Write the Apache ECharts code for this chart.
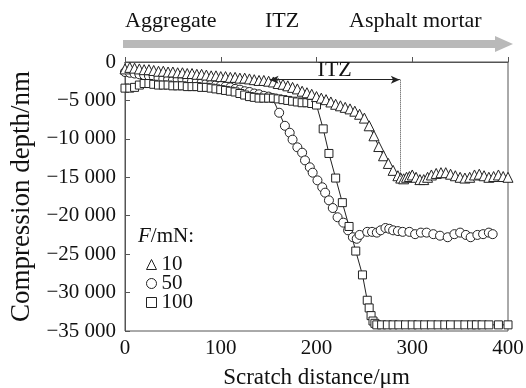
<!DOCTYPE html>
<html>
<head>
<meta charset="utf-8">
<script src="https://cdn.jsdelivr.net/npm/echarts@6/dist/echarts.min.js"></script>
<style>
  html, body { margin: 0; padding: 0; background: #fff; }
  #chart { width: 526px; height: 388px; }
</style>
</head>
<body>
<div id="chart"></div>
<script>
// scratch depth curves, [distance um, depth nm]
const force10 = [
  [0,-900],[5,-700],[10,-800],[15,-900],[20,-1000],[25,-1000],[30,-1100],[35,-1200],[40,-1200],
  [45,-1300],[50,-1300],[55,-1400],[60,-1400],[65,-1500],[70,-1500],[75,-1600],[80,-1600],
  [85,-1700],[90,-1800],[95,-1800],[100,-1900],[105,-1900],[110,-2000],[115,-2000],[120,-2100],
  [125,-2100],[130,-2200],[135,-2300],[140,-2400],[145,-2400],[150,-2500],[155,-2600],[160,-2800],
  [165,-2900],[170,-3100],[175,-3300],[180,-3500],[185,-3800],[190,-4000],[195,-4200],[200,-4500],
  [205,-4700],[210,-4900],[215,-5200],[220,-5500],[225,-5700],[230,-5900],[235,-6100],[240,-6400],
  [245,-6800],[250,-7300],[255,-8300],[260,-9600],[265,-11000],[270,-12200],[275,-13200],
  [280,-14100],[285,-14800],[288,-15100],[291,-15200],[294,-15000],[297,-14900],[300,-14700],
  [304,-15000],[308,-15300],[312,-15300],[316,-15000],[320,-14700],[325,-14500],[330,-14400],
  [335,-14400],[340,-14600],[345,-14800],[350,-15000],[355,-15100],[360,-15000],[365,-14700],
  [370,-14600],[375,-14800],[380,-15000],[385,-14900],[390,-14700],[395,-14900],[400,-15000]
];
const force50 = [
  [0,-1300],[5,-1400],[10,-1500],[15,-1600],[20,-1700],[25,-1800],[30,-1900],[35,-2100],
  [40,-2200],[45,-2300],[50,-2400],[55,-2300],[60,-2300],[65,-2400],[70,-2500],[75,-2600],
  [80,-2700],[85,-2800],[90,-2900],[95,-3000],[100,-3100],[105,-3200],[110,-3300],[115,-3500],
  [120,-3600],[125,-3800],[130,-3900],[135,-4100],[140,-4200],[145,-4400],[150,-4500],[154,-4700],
  [161,-6600],[167,-8300],[172,-9200],[175,-10100],[180,-11100],[185,-11800],[188,-12800],
  [193,-13700],[196,-14400],[201,-15400],[206,-16300],[209,-17000],[213,-18000],[217,-19000],
  [222,-20200],[228,-20900],[233,-21900],[238,-22800],[242,-23000],[245,-22500],[253,-22100],
  [258,-22100],[263,-22200],[267,-21900],[272,-21600],[276,-21700],[280,-21900],[285,-22000],
  [290,-22100],[297,-22100],[303,-22400],[309,-22200],[315,-22200],[322,-22400],[329,-22600],
  [337,-22800],[344,-22400],[350,-22200],[356,-22500],[361,-22800],[368,-22500],[374,-22400],
  [380,-22200],[384,-22400]
];
const force100 = [
  [0,-3400],[5,-3400],[10,-3300],[15,-3000],[20,-2800],[25,-2800],[30,-2900],[35,-3000],
  [40,-3000],[45,-3000],[50,-3100],[55,-3100],[60,-3100],[65,-3200],[70,-3200],[75,-3200],
  [80,-3300],[85,-3300],[90,-3400],[95,-3500],[100,-3600],[105,-3700],[110,-3800],[115,-3900],
  [120,-4100],[125,-4300],[130,-4500],[135,-4600],[140,-4700],[145,-4700],[150,-4700],[155,-4700],
  [160,-4800],[165,-4900],[170,-5000],[175,-5100],[180,-5200],[185,-5300],[190,-5300],[195,-5400],
  [200,-5600],[207,-8700],[213,-11900],[220,-15100],[227,-18300],[234,-21400],[241,-24600],
  [248,-27700],[253,-31000],[255,-32000],[257,-33000],[259,-33700],[261,-34000],[263,-34200],
  [268,-34200],[274,-34200],[280,-34200],[286,-34200],[293,-34200],[300,-34200],[306,-34200],
  [313,-34200],[320,-34200],[327,-34200],[334,-34200],[340,-34200],[348,-34200],[355,-34200],
  [362,-34200],[367,-34200],[373,-34200],[380,-34200],[390,-34200],[400,-34200]
];

const seriesNames = ['10', '50', '100'];
const seriesSymbols = ['triangle', 'circle', 'rect'];
const headerLabels = ['Aggregate', 'ITZ', 'Asphalt mortar'];

// ITZ band annotation
const itzFrom = 151;
const itzTo = 287;
const itzDepth = -2300;
const itzFloor = -15000;

const serif = '"Liberation Serif", "DejaVu Serif", serif';

function fmtDepth(v) {
  if (v === 0) return '0';
  const s = String(Math.abs(v)).replace(/\B(?=(\d{3})+(?!\d))/g, ' ');
  return '\u2212' + s;
}

const chart = echarts.init(document.getElementById('chart'), null, { renderer: 'canvas' });

const markStyle = { color: '#fff', borderColor: '#222', borderWidth: 1 };

const option = {
  animation: false,
  backgroundColor: '#fff',
  textStyle: { fontFamily: serif, color: '#111' },
  grid: {
    left: 125, top: 62, right: 18, bottom: 57,
    outerBoundsMode: 'none', containLabel: false,
    show: true, borderColor: '#555', borderWidth: 1
  },
  xAxis: {
    type: 'value', min: 0, max: 400, interval: 100,
    name: 'Scratch distance/\u03bcm', nameLocation: 'middle', nameGap: 35,
    nameTextStyle: { fontFamily: serif, fontSize: 23, color: '#111' },
    axisLine: { lineStyle: { color: '#555', width: 1 } },
    axisTick: { inside: true, length: 5, lineStyle: { color: '#555' } },
    axisLabel: { fontFamily: serif, fontSize: 21, color: '#111', margin: 7 },
    splitLine: { show: false }
  },
  yAxis: {
    type: 'value', min: -35000, max: 0, interval: 5000,
    name: 'Compression depth/nm', nameLocation: 'middle', nameGap: 89,
    nameTextStyle: { fontFamily: serif, fontSize: 27, color: '#111' },
    axisLine: { show: true, lineStyle: { color: '#555', width: 1 } },
    axisTick: { show: true, inside: true, length: 5, lineStyle: { color: '#555' } },
    axisLabel: { fontFamily: serif, fontSize: 21, color: '#111', margin: 9, formatter: fmtDepth },
    splitLine: { show: false }
  },
  legend: {
    orient: 'vertical', left: 141, top: 249, itemGap: -2,
    itemWidth: 10, itemHeight: 10,
    textStyle: { fontFamily: serif, fontSize: 21, color: '#111' },
    itemStyle: markStyle,
    data: seriesNames.map((n, i) => ({ name: n, icon: seriesSymbols[i] }))
  },
  graphic: [
    {
      type: 'polygon',
      shape: { points: [[123, 40], [495, 40], [495, 36], [513, 44], [495, 52], [495, 48], [123, 48]] },
      style: { fill: '#b9b9b9' }
    },
    { type: 'text', left: 125, top: 10, style: { text: headerLabels[0], font: '22px ' + serif, fill: '#111' } },
    { type: 'text', left: 265, top: 10, style: { text: headerLabels[1], font: '22px ' + serif, fill: '#111' } },
    { type: 'text', left: 349, top: 10, style: { text: headerLabels[2], font: '22px ' + serif, fill: '#111' } },
    {
      type: 'text', left: 138, top: 226,
      style: {
        rich: {
          it: { font: 'italic 21px ' + serif, fill: '#111' },
          n: { font: '21px ' + serif, fill: '#111' }
        },
        text: '{it|F}{n|/mN:}'
      }
    }
  ],
  series: [
    {
      name: seriesNames[1], type: 'line', data: force50,
      symbol: 'circle', symbolSize: 9, showAllSymbol: true,
      itemStyle: markStyle, lineStyle: { color: '#222', width: 1 }
    },
    {
      name: seriesNames[2], type: 'line', data: force100,
      symbol: 'rect', symbolSize: 8, showAllSymbol: true,
      itemStyle: markStyle, lineStyle: { color: '#222', width: 1 }
    },
    {
      name: seriesNames[0], type: 'line', data: force10,
      symbol: 'triangle', symbolSize: 10, showAllSymbol: true,
      itemStyle: markStyle, lineStyle: { color: '#222', width: 1 },
      markLine: {
        silent: true,
        symbol: ['arrow', 'arrow'],
        symbolSize: [6, 9],
        data: [
          [
            { coord: [itzFrom, itzDepth], lineStyle: { color: '#222', width: 1, type: 'solid' },
              label: { show: true, formatter: 'ITZ', position: 'insideMiddleTop', distance: -2,
                       fontFamily: serif, fontSize: 22, color: '#111' } },
            { coord: [itzTo, itzDepth] }
          ],
          [
            { coord: [itzTo, itzDepth], symbol: 'none', lineStyle: { color: '#444', width: 1, type: 'dotted' },
              label: { show: false } },
            { coord: [itzTo, itzFloor], symbol: 'none' }
          ]
        ]
      }
    }
  ]
};

chart.setOption(option);
</script>
</body>
</html>
